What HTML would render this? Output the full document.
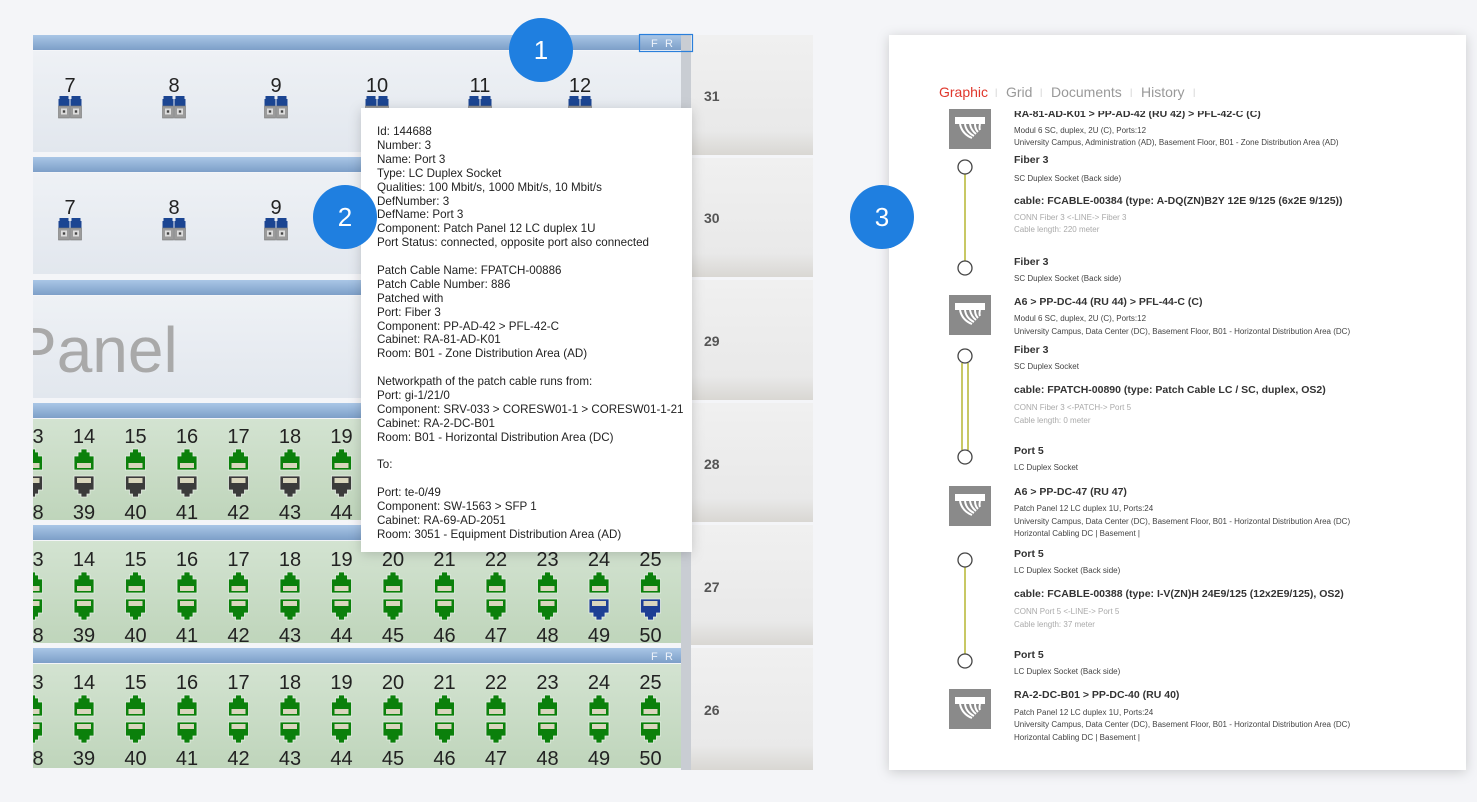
<!DOCTYPE html>
<html><head><meta charset="utf-8"><style>
html,body{margin:0;padding:0;background:#f4f5f8;}
svg{display:block;font-family:"Liberation Sans",sans-serif;}
</style></head><body>
<svg width="1477" height="802" viewBox="0 0 1477 802" xmlns="http://www.w3.org/2000/svg">
<defs>
<linearGradient id="hdr" x1="0" y1="0" x2="0" y2="1"><stop offset="0" stop-color="#a9c6e6"/><stop offset="1" stop-color="#7d9fc8"/></linearGradient>
<linearGradient id="fb" x1="0" y1="0" x2="0" y2="1"><stop offset="0" stop-color="#eef1f5"/><stop offset="1" stop-color="#e2e7ee"/></linearGradient>
<linearGradient id="gb" x1="0" y1="0" x2="0" y2="1"><stop offset="0" stop-color="#d3e3d1"/><stop offset="1" stop-color="#bfd5bb"/></linearGradient>
<linearGradient id="rc" x1="0" y1="0" x2="0" y2="1"><stop offset="0" stop-color="#f0f0f0"/><stop offset="0.8" stop-color="#e9e9e9"/><stop offset="1" stop-color="#d9d7d3"/></linearGradient>
<clipPath id="pc"><rect x="33" y="0" width="648" height="802"/></clipPath>
<filter id="sh" x="-10%" y="-10%" width="120%" height="120%"><feDropShadow dx="0" dy="2" stdDeviation="6" flood-color="#000" flood-opacity="0.18"/></filter>
<g id="fc"><path d="M-4.5,0 h9 v3 h1 v7 h-11 v-7 h1z" fill="#1b4592"/><rect x="-5.5" y="10" width="11" height="12" fill="#9b9b9b" stroke="#777" stroke-width="0.6"/><rect x="-3" y="12.5" width="6" height="6" fill="#ddd"/><rect x="-1.2" y="14.3" width="2.4" height="2.4" fill="#444"/></g>
<g id="fp"><use href="#fc" x="-6"/><use href="#fc" x="6"/></g>
<g id="pt"><path d="M-10,21 V7 H-6 V3 H-3 V0 H3 V3 H6 V7 H10 V21 Z" fill="#0b800b" stroke="#e8efe6" stroke-width="0.8"/><rect x="-7" y="14" width="14" height="5" fill="#d9d6bd"/></g>
<g id="pd"><path d="M-10,0 V14 H-6 V18 H-3 V21 H3 V18 H6 V14 H10 V0 Z" fill="#3b3b3b" stroke="#e8efe6" stroke-width="0.8"/><rect x="-7" y="2" width="14" height="5" fill="#d9d6bd"/></g>
<g id="pg"><path d="M-10,0 V14 H-6 V18 H-3 V21 H3 V18 H6 V14 H10 V0 Z" fill="#0b800b" stroke="#e8efe6" stroke-width="0.8"/><rect x="-7" y="2" width="14" height="5" fill="#d9d6bd"/></g>
<g id="pb"><path d="M-10,0 V14 H-6 V18 H-3 V21 H3 V18 H6 V14 H10 V0 Z" fill="#1d3f94" stroke="#e8efe6" stroke-width="0.8"/><rect x="-7" y="2" width="14" height="5" fill="#d9d6bd"/></g>
<g id="ico"><rect x="0" y="0" width="42" height="40" fill="#8a8a8a"/><rect x="6" y="8" width="30" height="7" fill="#fff"/><path d="M11,15 q2,10 12,14 M16,15 q1,8 9,12 M21,15 q1,6 6,10 M26,15 q0,5 3,8 M31,15 q-1,4 0,6" stroke="#fff" stroke-width="2" fill="none"/></g>
</defs>

<rect x="681" y="35" width="10" height="735" fill="#c9cdd3"/>
<g fill="url(#rc)">
<rect x="691" y="35" width="122" height="120"/><rect x="691" y="158" width="122" height="119"/><rect x="691" y="280" width="122" height="120"/><rect x="691" y="403" width="122" height="119"/><rect x="691" y="525" width="122" height="120"/><rect x="691" y="648" width="122" height="122"/>
</g>
<g font-size="14" font-weight="bold" fill="#555">
<text x="704" y="101">31</text><text x="704" y="223">30</text><text x="704" y="346">29</text><text x="704" y="469">28</text><text x="704" y="592">27</text><text x="704" y="715">26</text>
</g>

<g clip-path="url(#pc)">
<g fill="url(#hdr)">
<rect x="33" y="35" width="648" height="15"/><rect x="33" y="157" width="648" height="15"/><rect x="33" y="280" width="648" height="15"/><rect x="33" y="403" width="648" height="15"/><rect x="33" y="525" width="648" height="15"/><rect x="33" y="648" width="648" height="15"/>
</g>
<rect x="33" y="51" width="648" height="101" fill="url(#fb)"/>
<rect x="33" y="173" width="648" height="101" fill="url(#fb)"/>
<rect x="33" y="296" width="648" height="102" fill="url(#fb)"/>
<rect x="33" y="419" width="648" height="101" fill="url(#gb)"/>
<rect x="33" y="541" width="648" height="102" fill="url(#gb)"/>
<rect x="33" y="664" width="648" height="104" fill="url(#gb)"/>
<text x="14" y="372" font-size="64" fill="#a9a9a9">Panel</text>

<g font-size="20" fill="#222" text-anchor="middle">
<text x="70" y="92">7</text><text x="174" y="92">8</text><text x="276" y="92">9</text><text x="377" y="92">10</text><text x="480" y="92">11</text><text x="580" y="92">12</text>
<text x="70" y="214">7</text><text x="174" y="214">8</text><text x="276" y="214">9</text>
</g>
<use href="#fp" x="70" y="96"/><use href="#fp" x="174" y="96"/><use href="#fp" x="276" y="96"/><use href="#fp" x="377" y="96"/><use href="#fp" x="480" y="96"/><use href="#fp" x="580" y="96"/>
<use href="#fp" x="70" y="218"/><use href="#fp" x="174" y="218"/><use href="#fp" x="276" y="218"/>

<g font-size="20" fill="#222" text-anchor="middle">
<text x="32.5" y="443">13</text><text x="84" y="443">14</text><text x="135.5" y="443">15</text><text x="187" y="443">16</text><text x="238.5" y="443">17</text><text x="290" y="443">18</text><text x="341.5" y="443">19</text><text x="393" y="443">20</text><text x="444.5" y="443">21</text><text x="496" y="443">22</text><text x="547.5" y="443">23</text><text x="599" y="443">24</text><text x="650.5" y="443">25</text>
<text x="32.5" y="519">38</text><text x="84" y="519">39</text><text x="135.5" y="519">40</text><text x="187" y="519">41</text><text x="238.5" y="519">42</text><text x="290" y="519">43</text><text x="341.5" y="519">44</text><text x="393" y="519">45</text><text x="444.5" y="519">46</text><text x="496" y="519">47</text><text x="547.5" y="519">48</text><text x="599" y="519">49</text><text x="650.5" y="519">50</text>
<text x="32.5" y="566">13</text><text x="84" y="566">14</text><text x="135.5" y="566">15</text><text x="187" y="566">16</text><text x="238.5" y="566">17</text><text x="290" y="566">18</text><text x="341.5" y="566">19</text><text x="393" y="566">20</text><text x="444.5" y="566">21</text><text x="496" y="566">22</text><text x="547.5" y="566">23</text><text x="599" y="566">24</text><text x="650.5" y="566">25</text>
<text x="32.5" y="642">38</text><text x="84" y="642">39</text><text x="135.5" y="642">40</text><text x="187" y="642">41</text><text x="238.5" y="642">42</text><text x="290" y="642">43</text><text x="341.5" y="642">44</text><text x="393" y="642">45</text><text x="444.5" y="642">46</text><text x="496" y="642">47</text><text x="547.5" y="642">48</text><text x="599" y="642">49</text><text x="650.5" y="642">50</text>
<text x="32.5" y="689">13</text><text x="84" y="689">14</text><text x="135.5" y="689">15</text><text x="187" y="689">16</text><text x="238.5" y="689">17</text><text x="290" y="689">18</text><text x="341.5" y="689">19</text><text x="393" y="689">20</text><text x="444.5" y="689">21</text><text x="496" y="689">22</text><text x="547.5" y="689">23</text><text x="599" y="689">24</text><text x="650.5" y="689">25</text>
<text x="32.5" y="765">38</text><text x="84" y="765">39</text><text x="135.5" y="765">40</text><text x="187" y="765">41</text><text x="238.5" y="765">42</text><text x="290" y="765">43</text><text x="341.5" y="765">44</text><text x="393" y="765">45</text><text x="444.5" y="765">46</text><text x="496" y="765">47</text><text x="547.5" y="765">48</text><text x="599" y="765">49</text><text x="650.5" y="765">50</text>
</g>
<g id="r28top"><use href="#pt" x="32.5" y="449"/><use href="#pt" x="84" y="449"/><use href="#pt" x="135.5" y="449"/><use href="#pt" x="187" y="449"/><use href="#pt" x="238.5" y="449"/><use href="#pt" x="290" y="449"/><use href="#pt" x="341.5" y="449"/><use href="#pt" x="393" y="449"/><use href="#pt" x="444.5" y="449"/><use href="#pt" x="496" y="449"/><use href="#pt" x="547.5" y="449"/><use href="#pt" x="599" y="449"/><use href="#pt" x="650.5" y="449"/></g>
<use href="#pd" x="32.5" y="476"/><use href="#pd" x="84" y="476"/><use href="#pd" x="135.5" y="476"/><use href="#pd" x="187" y="476"/><use href="#pd" x="238.5" y="476"/><use href="#pd" x="290" y="476"/><use href="#pd" x="341.5" y="476"/><use href="#pd" x="393" y="476"/><use href="#pd" x="444.5" y="476"/><use href="#pd" x="496" y="476"/><use href="#pd" x="547.5" y="476"/><use href="#pd" x="599" y="476"/><use href="#pd" x="650.5" y="476"/>
<use href="#r28top" y="123"/><use href="#r28top" y="246"/>
<g id="r27bot"><use href="#pg" x="32.5" y="599"/><use href="#pg" x="84" y="599"/><use href="#pg" x="135.5" y="599"/><use href="#pg" x="187" y="599"/><use href="#pg" x="238.5" y="599"/><use href="#pg" x="290" y="599"/><use href="#pg" x="341.5" y="599"/><use href="#pg" x="393" y="599"/><use href="#pg" x="444.5" y="599"/><use href="#pg" x="496" y="599"/><use href="#pg" x="547.5" y="599"/></g>
<use href="#pb" x="599" y="599"/><use href="#pb" x="650.5" y="599"/>
<use href="#r27bot" y="123"/><use href="#pg" x="599" y="722"/><use href="#pg" x="650.5" y="722"/>
<g font-size="11" fill="#eef3fa"><text x="651" y="660">F</text><text x="665" y="660">R</text><text x="651" y="47">F</text><text x="665" y="47">R</text></g>
</g>
<rect x="639.5" y="34.5" width="53" height="17" fill="none" stroke="#2a7fdb" stroke-width="1.2"/>

<rect x="361" y="108" width="331" height="444" fill="#fff" filter="url(#sh)"/>
<g font-size="11.6" fill="#222">
<text x="377" y="135">Id: 144688</text>
<text x="377" y="149">Number: 3</text>
<text x="377" y="163">Name: Port 3</text>
<text x="377" y="177">Type: LC Duplex Socket</text>
<text x="377" y="191">Qualities: 100 Mbit/s, 1000 Mbit/s, 10 Mbit/s</text>
<text x="377" y="205">DefNumber: 3</text>
<text x="377" y="218">DefName: Port 3</text>
<text x="377" y="232">Component: Patch Panel 12 LC duplex 1U</text>
<text x="377" y="246">Port Status: connected, opposite port also connected</text>
<text x="377" y="274">Patch Cable Name: FPATCH-00886</text>
<text x="377" y="288">Patch Cable Number: 886</text>
<text x="377" y="302">Patched with</text>
<text x="377" y="316">Port: Fiber 3</text>
<text x="377" y="330">Component: PP-AD-42 &gt; PFL-42-C</text>
<text x="377" y="343">Cabinet: RA-81-AD-K01</text>
<text x="377" y="357">Room: B01 - Zone Distribution Area (AD)</text>
<text x="377" y="385">Networkpath of the patch cable runs from:</text>
<text x="377" y="399">Port: gi-1/21/0</text>
<text x="377" y="413">Component: SRV-033 &gt; CORESW01-1 &gt; CORESW01-1-21</text>
<text x="377" y="427">Cabinet: RA-2-DC-B01</text>
<text x="377" y="441">Room: B01 - Horizontal Distribution Area (DC)</text>
<text x="377" y="468">To:</text>
<text x="377" y="496">Port: te-0/49</text>
<text x="377" y="510">Component: SW-1563 &gt; SFP 1</text>
<text x="377" y="524">Cabinet: RA-69-AD-2051</text>
<text x="377" y="538">Room: 3051 - Equipment Distribution Area (AD)</text>
</g>

<rect x="889" y="35" width="577" height="735" fill="#fff" filter="url(#sh)"/>
<use href="#ico" x="949" y="109"/><use href="#ico" x="949" y="295"/><use href="#ico" x="949" y="486"/><use href="#ico" x="949" y="689"/>
<g stroke="#c8c864" stroke-width="2"><line x1="965" y1="174" x2="965" y2="261"/><line x1="962" y1="363" x2="962" y2="450"/><line x1="968" y1="363" x2="968" y2="450"/><line x1="965" y1="567" x2="965" y2="654"/></g>
<g fill="#fff" stroke="#444" stroke-width="1.3"><circle cx="965" cy="167" r="7"/><circle cx="965" cy="268" r="7"/><circle cx="965" cy="356" r="7"/><circle cx="965" cy="457" r="7"/><circle cx="965" cy="560" r="7"/><circle cx="965" cy="661" r="7"/></g>
<g font-size="10.5" font-weight="bold" fill="#333">
<text x="1014" y="117">RA-81-AD-K01 &gt; PP-AD-42 (RU 42) &gt; PFL-42-C (C)</text>
<text x="1014" y="163">Fiber 3</text>
<text x="1014" y="204">cable: FCABLE-00384 (type: A-DQ(ZN)B2Y 12E 9/125 (6x2E 9/125))</text>
<text x="1014" y="265">Fiber 3</text>
<text x="1014" y="305">A6 &gt; PP-DC-44 (RU 44) &gt; PFL-44-C (C)</text>
<text x="1014" y="353">Fiber 3</text>
<text x="1014" y="393">cable: FPATCH-00890 (type: Patch Cable LC / SC, duplex, OS2)</text>
<text x="1014" y="454">Port 5</text>
<text x="1014" y="495">A6 &gt; PP-DC-47 (RU 47)</text>
<text x="1014" y="557">Port 5</text>
<text x="1014" y="597">cable: FCABLE-00388 (type: I-V(ZN)H 24E9/125 (12x2E9/125), OS2)</text>
<text x="1014" y="658">Port 5</text>
<text x="1014" y="698">RA-2-DC-B01 &gt; PP-DC-40 (RU 40)</text>
</g>
<rect x="1000" y="100" width="400" height="11" fill="#fff"/>
<g font-size="14" fill="#999">
<text x="939" y="97" fill="#e0372c">Graphic</text><text x="995" y="95" font-size="9" fill="#ccc">|</text>
<text x="1006" y="97">Grid</text><text x="1040" y="95" font-size="9" fill="#ccc">|</text>
<text x="1051" y="97">Documents</text><text x="1130" y="95" font-size="9" fill="#ccc">|</text>
<text x="1141" y="97">History</text><text x="1193" y="95" font-size="9" fill="#ccc">|</text>
</g>
<g font-size="8" fill="#444">
<text x="1014" y="133">Modul 6 SC, duplex, 2U (C), Ports:12</text>
<text x="1014" y="145">University Campus, Administration (AD), Basement Floor, B01 - Zone Distribution Area (AD)</text>
<text x="1014" y="181">SC Duplex Socket (Back side)</text>
<text x="1014" y="281">SC Duplex Socket (Back side)</text>
<text x="1014" y="321">Modul 6 SC, duplex, 2U (C), Ports:12</text>
<text x="1014" y="334">University Campus, Data Center (DC), Basement Floor, B01 - Horizontal Distribution Area (DC)</text>
<text x="1014" y="369">SC Duplex Socket</text>
<text x="1014" y="470">LC Duplex Socket</text>
<text x="1014" y="511">Patch Panel 12 LC duplex 1U, Ports:24</text>
<text x="1014" y="524">University Campus, Data Center (DC), Basement Floor, B01 - Horizontal Distribution Area (DC)</text>
<text x="1014" y="536">Horizontal Cabling DC | Basement |</text>
<text x="1014" y="573">LC Duplex Socket (Back side)</text>
<text x="1014" y="674">LC Duplex Socket (Back side)</text>
<text x="1014" y="715">Patch Panel 12 LC duplex 1U, Ports:24</text>
<text x="1014" y="727">University Campus, Data Center (DC), Basement Floor, B01 - Horizontal Distribution Area (DC)</text>
<text x="1014" y="740">Horizontal Cabling DC | Basement |</text>
</g>
<g font-size="8" fill="#aaa">
<text x="1014" y="220">CONN Fiber 3 &lt;-LINE-&gt; Fiber 3</text>
<text x="1014" y="232">Cable length: 220 meter</text>
<text x="1014" y="410">CONN Fiber 3 &lt;-PATCH-&gt; Port 5</text>
<text x="1014" y="423">Cable length: 0 meter</text>
<text x="1014" y="614">CONN Port 5 &lt;-LINE-&gt; Port 5</text>
<text x="1014" y="627">Cable length: 37 meter</text>
</g>

<g fill="#1f7fe0"><circle cx="541" cy="50" r="32"/><circle cx="345" cy="217" r="32"/><circle cx="882" cy="217" r="32"/></g>
<g font-size="26" fill="#fff" text-anchor="middle"><text x="541" y="59">1</text><text x="345" y="226">2</text><text x="882" y="226">3</text></g>
</svg>
</body></html>
